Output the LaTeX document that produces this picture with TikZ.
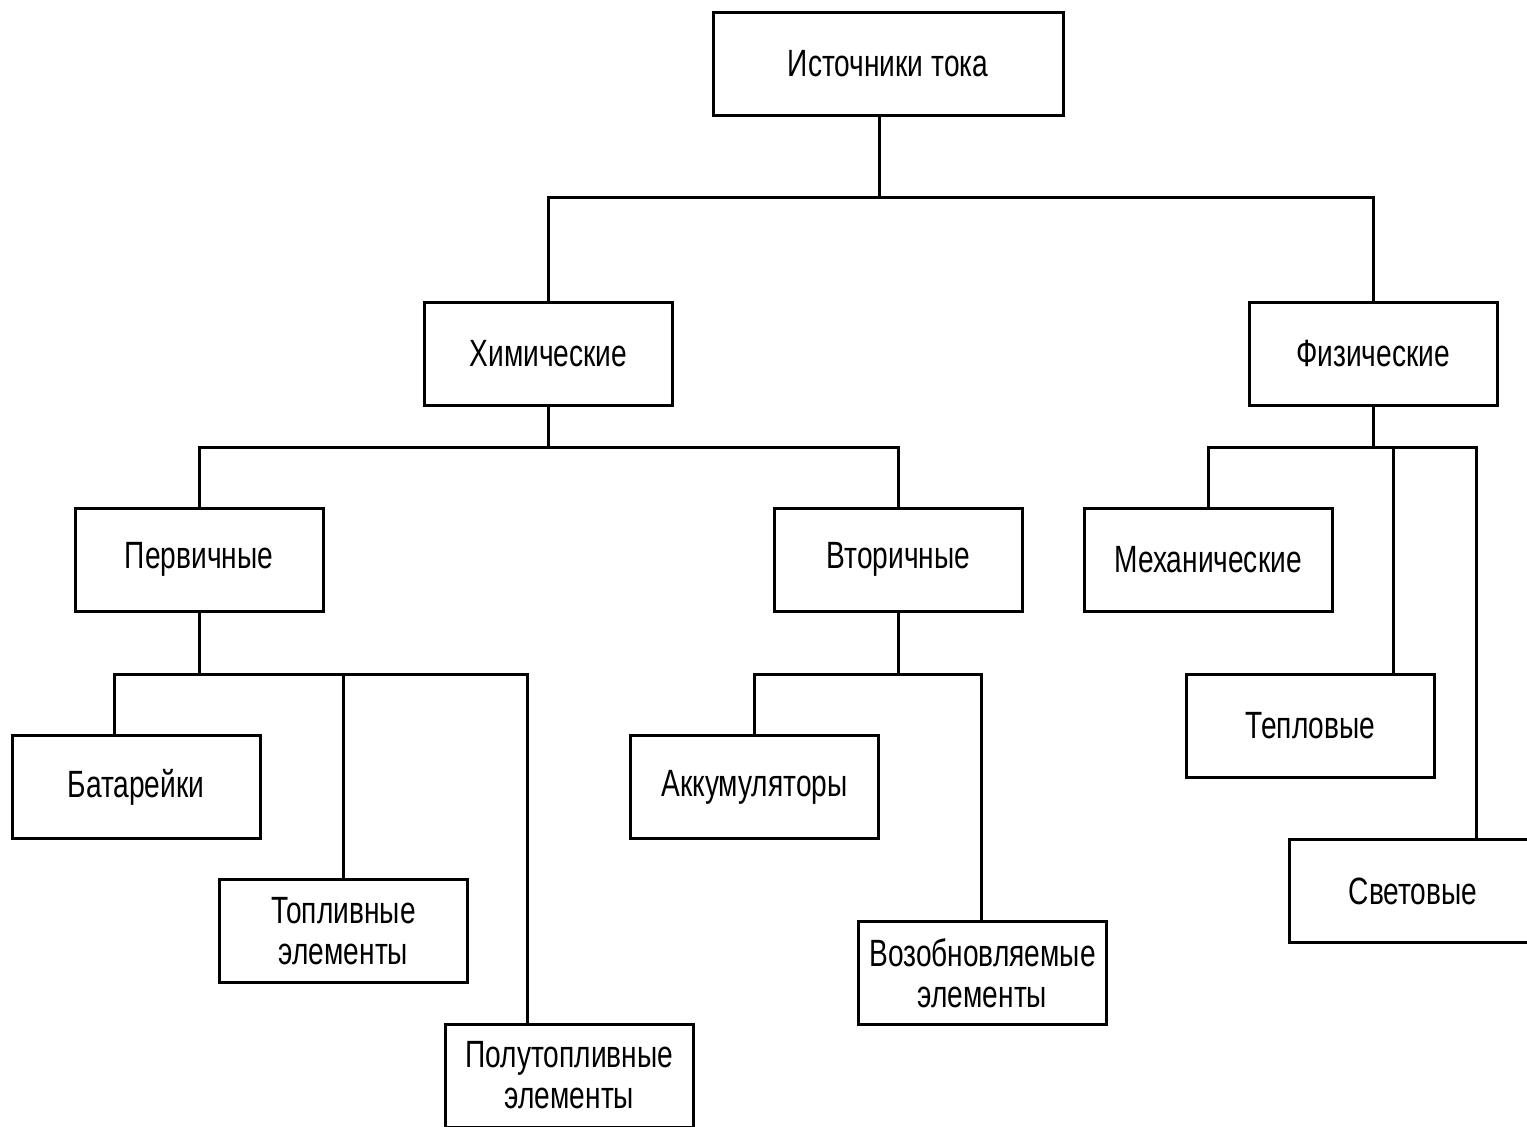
\documentclass[tikz,border=0pt]{standalone}
\usepackage{fontspec}
\setmainfont{Liberation Sans}[FakeStretch=0.74]
\begin{document}
\begin{tikzpicture}[x=0.5pt,y=-0.5pt,
  box/.style={draw=black,line width=1.5pt,fill=white,minimum width=124pt,minimum height=51.5pt,
    align=center,inner sep=0pt,font=\fontsize{19}{20.5}\selectfont},
  wide/.style={box,minimum width=175pt},
  conn/.style={draw=black,line width=1.5pt}]
\useasboundingbox (0,0) rectangle (1527,1126);
\clip (0,0) rectangle (1527,1126);
% nodes
\node[wide] (top) at (888,63.5) {Источники тока};
\node[box] (chem) at (548.5,353.5) {Химические};
\node[box] (phys) at (1373,353.5) {Физические};
\node[box] (perv) at (199,559.5) {Первичные};
\node[box] (vtor) at (898.5,559.5) {Вторичные};
\node[box] (mech) at (1208,559.5) {Механические};
\node[box] (bat) at (136,787) {Батарейки};
\node[box] (akk) at (754.5,787) {Аккумуляторы};
\node[box] (tepl) at (1310.5,725.5) {Тепловые};
\node[box] (topl) at (343.5,931) {Топливные\\элементы};
\node[box] (vozob) at (982.5,973) {Возобновляемые\\элементы};
\node[box] (svet) at (1413,891) {Световые};
\node[box] (polu) at (569.5,1075.5) {Полутопливные\\элементы};
% junctions
\coordinate (j1) at (879,197);
\coordinate (j2) at (548.5,447);
\coordinate (j3) at (1373,447);
\coordinate (t3) at (1393,447);
\coordinate (s3) at (1476,447);
\coordinate (j4) at (199,674);
\coordinate (b4) at (114,674);
\coordinate (p4) at (527,674);
\coordinate (j5) at (898.5,674);
\coordinate (v5) at (981,674);
% connectors
\draw[conn] (j1 |- top.south) -- (j1);
\draw[conn] (chem.north) |- (j1) -| (phys.north);
\draw[conn] (chem.south) -- (j2);
\draw[conn] (perv.north) |- (j2) -| (vtor.north);
\draw[conn] (phys.south) -- (j3);
\draw[conn] (mech.north) |- (j3) -- (s3) -- (s3 |- svet.north);
\draw[conn] (t3) -- (t3 |- tepl.north);
\draw[conn] (perv.south) -- (j4);
\draw[conn] (b4 |- bat.north) -- (b4) -- (p4) -- (p4 |- polu.north);
\draw[conn] (topl.north) -- (topl.north |- j4);
\draw[conn] (vtor.south) -- (j5);
\draw[conn] (akk.north) |- (j5) -- (v5) -- (v5 |- vozob.north);
\end{tikzpicture}
\end{document}
